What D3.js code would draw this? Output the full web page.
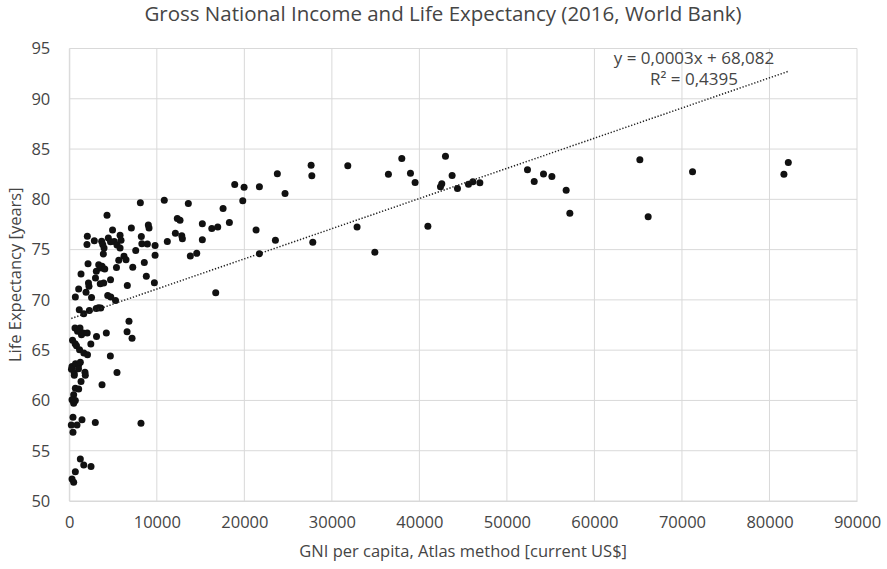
<!DOCTYPE html>
<html>
<head>
<meta charset="utf-8">
<script src="https://cdn.jsdelivr.net/npm/d3@7"></script>
<style>
  html, body { margin: 0; padding: 0; background: #ffffff; }
  svg { display: block; }
  text { font-family: "Open Sans", "Noto Sans", sans-serif; fill: #454545; }
</style>
</head>
<body>
<svg id="chart" width="887" height="569"></svg>
<script>
// GNI per capita (Atlas method, current US$) by country, 2016
const gni = [
  21720, 23770, 24650, 27630, 27710, 31820, 36460, 37990, 38980, 39510,
  42980, 43740, 42560, 42410, 44350, 45610, 46110, 46910, 52350, 53120,
  54180, 55140, 56770, 57190, 65190, 66140, 71210, 81650, 82150, 21340,
  23550, 21720, 27820, 32880, 34910, 40970, 10850, 13600, 18900, 19970,
  19820, 17570, 18290, 12340, 12650, 15200, 16280, 16960, 11200, 12120,
  12850, 12920, 15200, 13830, 14560, 16730, 4310, 8120, 7090, 9030,
  9110, 8230, 4940, 2060, 2860, 2020, 3700, 3820, 4460, 4710,
  5140, 5450, 5800, 8290, 8920, 9800, 7590, 3970, 3890, 5800,
  6250, 6480, 9800, 5650, 2140, 3360, 3740, 5390, 7250, 8570,
  3090, 3660, 4050, 1340, 2990, 8800, 9720, 6630, 4710, 3540,
  3930, 2190, 2250, 1070, 1910, 690, 2540, 4390, 4740, 5280,
  1140, 1650, 2290, 3070, 3340, 3590, 6820, 6600, 7170, 650,
  1220, 940, 1390, 1570, 2050, 4230, 3110, 370, 670, 820,
  2460, 1170, 1660, 2080, 4690, 310, 710, 1070, 1260, 250,
  1050, 560, 1790, 1830, 570, 5450, 1340, 3740, 690, 1070,
  500, 310, 690, 500, 420, 230, 880, 1450, 420, 2970,
  8190, 1260, 1650, 2480, 690, 310, 500, 5910
];

// Life expectancy at birth (years), same order as gni
const lifeExp = [
  81.24, 82.54, 80.58, 83.40, 82.34, 83.34, 82.50, 84.06, 82.60, 81.67,
  84.29, 82.37, 81.54, 81.24, 81.08, 81.50, 81.74, 81.64, 82.94, 81.77,
  82.52, 82.27, 80.91, 78.62, 83.93, 78.26, 82.74, 82.50, 83.67, 76.96,
  75.93, 74.60, 75.73, 77.26, 74.73, 77.32, 79.91, 79.58, 81.47, 81.20,
  79.85, 79.08, 77.69, 78.09, 77.92, 77.56, 77.09, 77.24, 75.80, 76.62,
  76.39, 76.09, 75.97, 74.37, 74.63, 70.72, 78.42, 79.65, 77.16, 77.44,
  77.16, 76.31, 76.96, 76.32, 75.87, 75.50, 75.83, 75.50, 76.15, 75.77,
  75.80, 75.47, 76.42, 75.58, 75.55, 75.40, 74.90, 75.17, 74.57, 75.17,
  74.33, 74.00, 74.45, 73.95, 73.60, 73.50, 73.34, 73.21, 73.24, 73.73,
  72.84, 73.18, 73.08, 72.58, 72.18, 72.34, 71.71, 71.44, 72.01, 71.61,
  71.68, 71.68, 71.35, 71.09, 70.77, 70.29, 70.25, 70.44, 70.29, 69.95,
  69.02, 68.61, 68.94, 69.15, 69.22, 69.19, 67.88, 66.83, 66.18, 67.20,
  67.20, 66.88, 66.53, 66.70, 66.70, 66.70, 66.36, 65.99, 65.64, 65.44,
  65.61, 65.04, 64.71, 64.54, 64.42, 63.37, 63.65, 63.55, 63.81, 63.10,
  63.15, 62.72, 62.80, 62.50, 62.50, 62.78, 61.88, 61.55, 61.22, 61.15,
  60.56, 60.06, 59.99, 59.73, 58.34, 57.57, 57.57, 58.07, 56.84, 57.80,
  57.74, 54.18, 53.59, 53.42, 52.92, 52.19, 51.86, 75.93
];

const xTicks = [0, 10000, 20000, 30000, 40000, 50000, 60000, 70000, 80000, 90000];
const yTicks = [50, 55, 60, 65, 70, 75, 80, 85, 90, 95];

// Linear trend line as reported on the chart
const trendSlope = 0.0003;
const trendIntercept = 68.082;
const trendLabel = ["y = 0,0003x + 68,082", "R\u00B2 = 0,4395"];

const titleText = "Gross National Income and Life Expectancy (2016, World Bank)";
const xTitle = "GNI per capita, Atlas method [current US$]";
const yTitle = "Life Expectancy [years]";

const svg = d3.select("#chart");
const plot = { left: 69.3, right: 857, top: 48.5, bottom: 501 };

const x = d3.scaleLinear().domain([0, 90000]).range([plot.left, plot.right]);
const y = d3.scaleLinear().domain([50, 95]).range([plot.bottom, plot.top]);

const gridColor = "#d9d9d9";

// Gridlines
svg.append("g").selectAll("line").data(yTicks).join("line")
  .attr("x1", plot.left).attr("x2", plot.right)
  .attr("y1", d => y(d)).attr("y2", d => y(d))
  .attr("stroke", gridColor).attr("stroke-width", 1);

svg.append("g").selectAll("line").data(xTicks).join("line")
  .attr("y1", plot.top).attr("y2", plot.bottom)
  .attr("x1", d => x(d)).attr("x2", d => x(d))
  .attr("stroke", gridColor).attr("stroke-width", 1);

// Axes (labels only; lines come from the grid)
const xAxis = svg.append("g")
  .attr("transform", `translate(0,${plot.bottom})`)
  .call(d3.axisBottom(x).tickValues(xTicks).tickSize(0).tickPadding(15).tickFormat(d3.format("d")));
xAxis.select(".domain").attr("stroke", gridColor);
xAxis.selectAll("text").style("font-size", "16.5px").attr("fill", "#454545");

const yAxis = svg.append("g")
  .attr("transform", `translate(${plot.left},0)`)
  .call(d3.axisLeft(y).tickValues(yTicks).tickSize(0).tickPadding(19).tickFormat(d3.format("d")));
yAxis.select(".domain").attr("stroke", gridColor);
yAxis.selectAll("text").style("font-size", "16.5px").attr("fill", "#454545");

// Scatter points
const points = gni.map((g, i) => ({ g, e: lifeExp[i] }));
svg.append("g").selectAll("circle").data(points).join("circle")
  .attr("cx", d => x(d.g))
  .attr("cy", d => y(d.e))
  .attr("r", 3.5)
  .attr("fill", "#111111");

// Trend line over the data range
const gMin = d3.min(gni), gMax = d3.max(gni);
svg.append("line")
  .attr("x1", x(gMin)).attr("y1", y(trendSlope * gMin + trendIntercept))
  .attr("x2", x(gMax)).attr("y2", y(trendSlope * gMax + trendIntercept))
  .attr("stroke", "#222222")
  .attr("stroke-width", 1.5)
  .attr("stroke-dasharray", "1.3 1.8");

// Trend equation
svg.append("g").selectAll("text").data(trendLabel).join("text")
  .attr("x", 694)
  .attr("y", (d, i) => 64 + i * 21)
  .attr("text-anchor", "middle")
  .style("font-size", "17px")
  .text(d => d);

// Titles
svg.append("text")
  .attr("x", 443).attr("y", 21)
  .attr("text-anchor", "middle")
  .style("font-size", "20.5px")
  .text(titleText);

svg.append("text")
  .attr("x", x(45000)).attr("y", 557)
  .attr("text-anchor", "middle")
  .style("font-size", "16.5px")
  .text(xTitle);

svg.append("text")
  .attr("transform", `translate(21,${(plot.top + plot.bottom) / 2}) rotate(-90)`)
  .attr("text-anchor", "middle")
  .style("font-size", "16.5px")
  .text(yTitle);
</script>
</body>
</html>
